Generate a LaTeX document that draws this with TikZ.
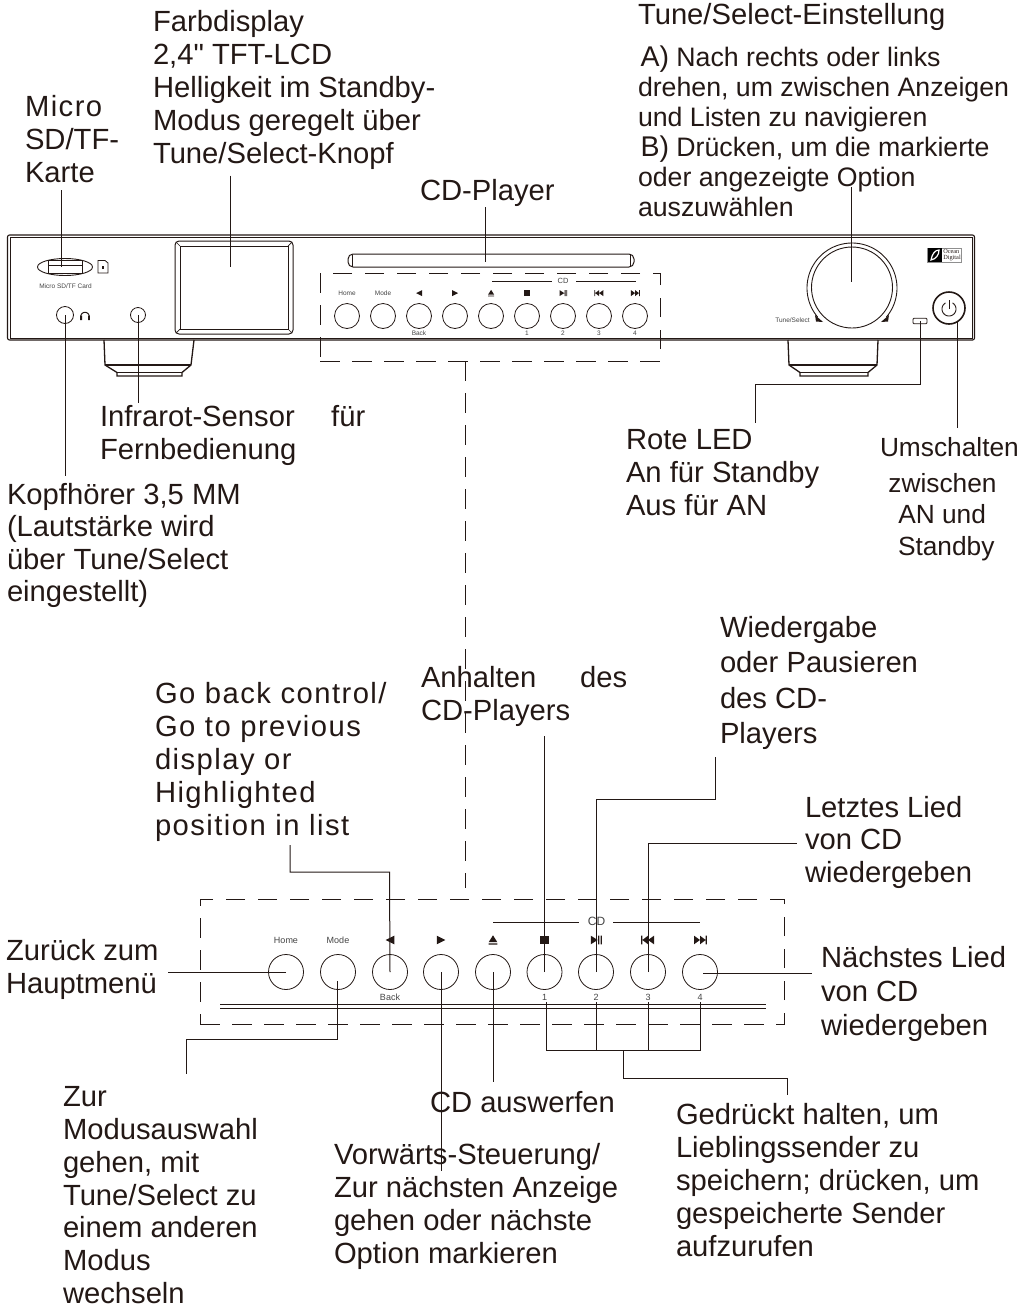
\documentclass[tikz,border=0pt]{standalone}
\usepackage{fontspec}
\usetikzlibrary{shapes.geometric}
\setmainfont{Liberation Sans}[Ligatures=TeXOff]
\newfontfamily\spacedfont[LetterSpace=5]{Liberation Sans}
\newfontfamily\logofont{Liberation Serif}
\definecolor{ink}{HTML}{231815}
\definecolor{lbl}{HTML}{444444}
\tikzset{
  txt/.style={inner sep=0pt,outer sep=0pt,anchor=north west,align=left,text=ink,font=\fontsize{29.2}{33}\selectfont,execute at begin node=\strut},
  txtb/.style={txt,font=\fontsize{26.7}{30}\selectfont},
  lead/.style={draw=ink,line width=1pt},
  panel/.style={draw=ink,line width=1.1pt},
  dashbox/.style={draw=ink,line width=0.9pt,dash pattern=on 19.5pt off 12.5pt,minimum width=#1,inner sep=0pt,outer sep=0pt},
  btnA/.style={circle,draw=ink,line width=0.8pt,minimum size=25pt,inner sep=0pt,outer sep=0pt},
  btnB/.style={circle,draw=ink,line width=0.8pt,minimum size=35pt,inner sep=0pt,outer sep=0pt},
  smA/.style={inner sep=0pt,text=lbl,font=\fontsize{6.5}{7}\selectfont},
  smB/.style={inner sep=0pt,text=lbl,font=\fontsize{9}{10}\selectfont},
  pics/icleft/.style={code={\fill[ink] (-1,0)--(1,-1)--(1,1)--cycle;}},
  pics/icright/.style={code={\fill[ink] (1,0)--(-1,-1)--(-1,1)--cycle;}},
  pics/iceject/.style={code={\fill[ink] (0,-1.1)--(1,.5)--(-1,.5)--cycle (-1,.8) rectangle (1,1.1);}},
  pics/icstop/.style={code={\fill[ink] (-1,-1) rectangle (1,1);}},
  pics/icplay/.style={code={\fill[ink] (-1.2,-1)--(.4,0)--(-1.2,1)--cycle (.5,-1) rectangle (.8,1) (1.05,-1) rectangle (1.35,1);}},
  pics/icprev/.style={code={\fill[ink] (-1.6,-1) rectangle (-1.3,1) (-1.3,0)--(0,-1)--(0,1)--cycle (0,0)--(1.4,-1)--(1.4,1)--cycle;}},
  pics/icnext/.style={code={\fill[ink] (1.6,-1) rectangle (1.3,1) (1.3,0)--(0,-1)--(0,1)--cycle (0,0)--(-1.4,-1)--(-1.4,1)--cycle;}},
}
\newcommand{\bigAB}[1]{{\fontsize{28.5}{30}\selectfont #1}}
\begin{document}
\begin{tikzpicture}[x=1pt,y=-1pt]
\useasboundingbox (0,0) rectangle (1029,1307);
% ---- device body
\draw[panel,rounded corners=2pt] (7.5,235) rectangle (974.5,340);
\draw[ink,line width=.6pt] (10,237.5) -- (972,237.5) -- (972,338) -- (10,338) -- cycle;
% feet
\draw[ink,line width=1.3pt] (104,340) -- (105,365) -- (117,372.5) -- (117,376) -- (182,376) -- (182,372.5) -- (191,365) -- (194,340);
\draw[ink,line width=1.3pt] (105,365) -- (191,365) (117,372.5) -- (182,372.5);
\draw[ink,line width=1.3pt] (788,340) -- (789,365) -- (800,372.5) -- (800,376) -- (868,376) -- (868,372.5) -- (877,365) -- (878,340);
\draw[ink,line width=1.3pt] (789,365) -- (877,365) (800,372.5) -- (868,372.5);
% SD card
\node[draw=ink,line width=.9pt,ellipse,minimum width=55pt,minimum height=17pt,inner sep=0pt] (sdell) at (65,267) {};
\node[draw=ink,line width=.8pt,minimum width=34pt,minimum height=13pt,inner sep=0pt] (sdslot) at (65,267) {};
\draw[ink,line width=.8pt] (48,265) -- (82,265);
\draw[ink,line width=.8pt] (98,261) -- (98,273) -- (108,273) -- (108,263) -- (105,260.5) -- (98,260.5) -- cycle;
\fill[ink] (102,266) rectangle (104,269);
\node[smA,text=lbl] (sdtxt) at (65.5,286) {Micro SD/TF Card};
\node[btnA,minimum size=17pt] (hp) at (65,315) {};
\draw[ink,line width=1pt] plot[domain=0:180,samples=20] ({85+4.2*cos(\x)},{316.5-4.2*sin(\x)});
\fill[ink] (80.2,315.5) rectangle (82,320) (88,315.5) rectangle (89.8,320);
\node[btnA,minimum size=15pt] (ir) at (138,315) {};
% display
\node[draw=ink,line width=1pt,rounded corners=4pt,minimum width=118pt,minimum height=93pt,inner sep=0pt] (disp) at (234,287.5) {};
\node[draw=ink,line width=1pt,minimum width=108pt,minimum height=83pt,inner sep=0pt] (dispin) at (234,287.5) {};
\foreach \a/\b/\c/\d in {176/242/180/246,292/242/288/246,176/333/180/329,292/333/288/329}\draw[ink,line width=.7pt](\a,\b)--(\c,\d);
% slot
\node[draw=ink,line width=1pt,rounded corners=5pt,minimum width=286pt,minimum height=13pt,inner sep=0pt] (slot) at (491,260.5) {};
\draw[ink,line width=.6pt] (352,254.5)--(352,266.5) (630.5,254.5)--(630.5,266.5);
% dashed zone
\node[dashbox=340pt,minimum height=88pt] (zoneA) at (490,317) {};
% CD label top
\node[smB,font=\fontsize{7.5}{8}\selectfont] (cdA) at (563,281) {CD};
\coordinate (cdAl) at (492,281); \coordinate (cdAm) at (552,281); \coordinate (cdAn) at (576,281); \coordinate (cdAr) at (636,281);
\draw[ink,line width=.7pt] (cdAl) -- (cdAm) (cdAn) -- (cdAr);
% buttons top
\foreach \n/\x in {1/347,2/383,3/419,4/455,5/491,6/527,7/563,8/599,9/635}
  \node[btnA] (a\n) at (\x,316) {};
\node[smA] (aH) at (347,293) {Home};
\node[smA] (aM) at (383,293) {Mode};
\node[smA] (aBk) at (419,333) {Back};
\foreach \n/\x in {1/527,2/563,3/599,4/635} \node[smA] (aN\n) at (\x,333) {\n};
\begin{scope}[x=3pt,y=-3pt]
\pic at (139.7,97.7) {icleft};
\pic at (151.7,97.7) {icright};
\pic at (163.7,97.7) {iceject};
\pic at (175.7,97.7) {icstop};
\pic at (187.7,97.7) {icplay};
\pic at (199.7,97.7) {icprev};
\pic at (211.7,97.7) {icnext};
\end{scope}
% knob
\node[circle,draw=ink,line width=.9pt,minimum size=81pt,inner sep=0pt] (knob) at (852,287.5) {};
\draw[ink,line width=.9pt] plot[domain=-40:220,samples=70] ({852+45*cos(\x)},{288-45*sin(\x)});
\fill[ink] (815,315)--(823,322)--(816,321.5)--cycle (889,315)--(881,322)--(888,321.5)--cycle;
\node[smA,anchor=east] (tstxt) at (810,320) {Tune/Select};
\node[draw=ink,line width=.9pt,rounded corners=1pt,minimum width=14pt,minimum height=5.5pt,inner sep=0pt] (led) at (920,321) {};
% logo
\node[draw=lbl!60,line width=.5pt,minimum width=34pt,minimum height=14pt,inner sep=0pt] (logo) at (944.5,255) {};
\fill[black] (927.5,248) rectangle (942,262);
\draw[white,line width=1.2pt] (931,260) .. controls (932,254) and (935,250) .. (939,250) .. controls (939,255) and (936,259) .. cycle;
\node[inner sep=0pt,align=left,text=ink,font=\logofont\fontsize{6.3}{6.4}\selectfont] (logotxt) at (952,255) {Ocean\\Digital};
% power
\node[circle,draw=ink,line width=1.6pt,minimum size=32pt,inner sep=0pt] (pow) at (949,308) {};
\draw[ink,line width=.9pt] plot[domain=-240:60,samples=40] ({949+7*cos(\x)},{309-7*sin(\x)});
\draw[ink,line width=.9pt] (949,300) -- (949,309);
% ---- texts top
\node[txt] (tSD) at (25,95) {{\spacedfont Micro}\\SD/TF-\\Karte};
\node[txt] (tFarb) at (153,10.7) {Farbdisplay\\2,4" TFT-LCD\\Helligkeit im Standby-\\Modus geregelt über\\Tune/Select-Knopf};
\node[txt] (tCD) at (420,177) {CD-Player};
\node[txt] (tTS) at (638,1.5) {Tune/Select-Einstellung};
\node[txtb] (tAB) at (638,45.7) {\hspace{2.5pt}\bigAB{A)} Nach rechts oder links\\drehen, um zwischen Anzeigen\\und Listen zu navigieren\\\hspace{2.5pt}\bigAB{B)} Drücken, um die markierte\\oder angezeigte Option\\auszuwählen};
\node[txt] (tIR) at (100,405.7) {Infrarot-Sensor\hspace{36.5pt}für\\Fernbedienung};
\node[txt] (tLED) at (626,429.5) {Rote LED\\An für Standby\\Aus für AN};
\node[txt,font=\fontsize{26.3}{31.2}\selectfont] (tUm) at (880,437.5) {Umschalten\\[5pt]\hspace{8.4pt}zwischen\\\hspace{18.3pt}AN und\\\hspace{18pt}Standby};
\node[txt,font=\fontsize{29.2}{32.5}\selectfont] (tKopf) at (7,483) {Kopfhörer 3,5 MM\\(Lautstärke wird\\über Tune/Select\\eingestellt)};
% ---- lower panel
\node[txt,font=\fontsize{29.2}{35.5}\selectfont] (tWie) at (720,616) {Wiedergabe\\oder Pausieren\\des CD-\\Players};
\node[txt,font=\fontsize{29.2}{32.7}\selectfont] (tAnh) at (421,666.5) {Anhalten\hspace{44pt}des\\CD-Players};
\node[txt,font=\spacedfont\fontsize{29.2}{32.8}\selectfont] (tGo) at (155,682.8) {Go back control/\\Go to previous\\display or\\Highlighted\\position in list};
\node[txt,font=\fontsize{29.2}{32.5}\selectfont] (tLet) at (805,796) {Letztes Lied\\von CD\\wiedergeben};
\node[txt] (tZur) at (6,939) {Zurück zum\\Hauptmenü};
\node[txt,font=\fontsize{29.2}{34}\selectfont] (tNae) at (821,946.5) {Nächstes Lied\\von CD\\wiedergeben};
\node[txt,font=\fontsize{29.2}{32.8}\selectfont] (tMod) at (63,1086.6) {Zur\\Modusauswahl\\gehen, mit\\Tune/Select zu\\einem anderen\\Modus\\wechseln};
\node[txt] (tEj) at (430,1089.5) {CD auswerfen};
\node[txt] (tVor) at (334,1143) {Vorwärts-Steuerung/\\Zur nächsten Anzeige\\gehen oder nächste\\Option markieren};
\node[txt] (tGed) at (676,1103) {Gedrückt halten, um\\Lieblingssender zu\\speichern; drücken, um\\gespeicherte Sender\\aufzurufen};
\node[dashbox=584pt,minimum height=125pt] (zoneB) at (492,961.5) {};
\node[smB,font=\fontsize{12}{13}\selectfont] (cdB) at (596.5,921) {CD};
\coordinate (cdBl) at (493,922); \coordinate (cdBm) at (579,922); \coordinate (cdBn) at (613,922); \coordinate (cdBr) at (700,922);
\draw[ink,line width=.8pt] (cdBl) -- (cdBm) (cdBn) -- (cdBr);
\foreach \n/\x in {1/286,2/338,3/390,4/441,5/493,6/544.5,7/596,8/648,9/700}
  \node[btnB] (b\n) at (\x,972) {};
\node[smB] (bH) at (286,940) {Home};
\node[smB] (bM) at (338,940) {Mode};
\node[smB] (bBk) at (390,997) {Back};
\foreach \n/\x in {1/544.5,2/596,3/648,4/700} \node[smB] (bN\n) at (\x,997) {\n};
\begin{scope}[x=4.3pt,y=-4.3pt]
\pic at (90.7,218.6) {icleft};
\pic at (102.6,218.6) {icright};
\pic at (114.65,218.6) {iceject};
\pic at (126.6,218.6) {icstop};
\pic at (138.6,218.6) {icplay};
\pic at (150.7,218.6) {icprev};
\pic at (162.8,218.6) {icnext};
\end{scope}
\coordinate (railLa) at (220,1004); \coordinate (railRa) at (766,1004);
\coordinate (railLb) at (220,1008); \coordinate (railRb) at (766,1008);
\draw[ink,line width=1pt] (railLa) -- (railRa);
\draw[ink,line width=1pt] (railLb) -- (railRb);
% ---- leaders top
\coordinate (lSD) at (61,190);   \coordinate (lSDe) at (61,267);
\coordinate (lFarb) at (230.7,175.7); \coordinate (lFarbe) at (230.7,267);
\coordinate (lCD) at (485,207);  \coordinate (lCDe) at (485,262);
\coordinate (lTS) at (851.7,187);  \coordinate (lTSe) at (851.7,282);
\coordinate (lHP) at (65,476);
\coordinate (lIR) at (138,403);
\coordinate (lLEDa) at (920,384); \coordinate (lLEDb) at (755.5,384); \coordinate (lLEDc) at (755.5,423);
\coordinate (lPow) at (957,322); \coordinate (lPowe) at (957,428);
\draw[lead] (lSD) -- (lSDe);
\draw[lead] (lFarb) -- (lFarbe);
\draw[lead] (lCD) -- (lCDe);
\draw[lead] (lTS) -- (lTSe);
\draw[lead] (hp.center) -- (lHP);
\draw[lead] (ir.center) -- (lIR);
\draw[lead] (led.center) -- (lLEDa) -- (lLEDb) -- (lLEDc);
\draw[lead] (lPow) -- (lPowe);
\coordinate (dA) at (465.5,361); \coordinate (dB) at (465.5,888);
\draw[ink,line width=.9pt,dash pattern=on 19.5pt off 12.5pt] (dA) -- (dB);
% ---- leaders lower
\coordinate (lHome) at (168,972);
\coordinate (lMa) at (337,981); \coordinate (lMb) at (337,1039); \coordinate (lMc) at (186,1039); \coordinate (lMd) at (186,1074);
\coordinate (lBa) at (389.5,872); \coordinate (lBb) at (290,872); \coordinate (lBc) at (290,845);
\coordinate (lFw) at (441,1171);
\coordinate (lEj) at (493,1082);
\coordinate (lSt) at (544.5,735.5);
\coordinate (lPa) at (596,799); \coordinate (lPb) at (715,799); \coordinate (lPc) at (715,756.7);
\coordinate (lPra) at (648,843.3); \coordinate (lPrb) at (796.7,843.3);
\coordinate (lNx) at (703,973); \coordinate (lNxe) at (812,973);
\draw[lead] (b1.center) -- (lHome);
\draw[lead] (lMa) -- (lMb) -- (lMc) -- (lMd);
\draw[lead] (b3.center) -- (lBa) -- (lBb) -- (lBc);
\draw[lead] (b4.center) -- (lFw);
\draw[lead] (b5.center) -- (lEj);
\draw[lead] (b6.center) -- (lSt);
\draw[lead] (b7.center) -- (lPa) -- (lPb) -- (lPc);
\draw[lead] (b8.center) -- (lPra) -- (lPrb);
\draw[lead] (lNx) -- (lNxe);
\coordinate (k1) at (546,1002); \coordinate (k2) at (596.5,1002); \coordinate (k3) at (648.5,1002); \coordinate (k4) at (700.5,1002);
\coordinate (j1) at (546,1050); \coordinate (j2) at (596.5,1050); \coordinate (j3) at (648.5,1050); \coordinate (j4) at (700.5,1050);
\coordinate (jm) at (623,1050); \coordinate (jn) at (623,1078); \coordinate (jo) at (787,1078); \coordinate (jp) at (787,1095);
\draw[lead] (k1) -- (j1) -- (j4) -- (k4);
\draw[lead] (k2) -- (j2);
\draw[lead] (k3) -- (j3);
\draw[lead] (jm) -- (jn) -- (jo) -- (jp);
\end{tikzpicture}
\end{document}
